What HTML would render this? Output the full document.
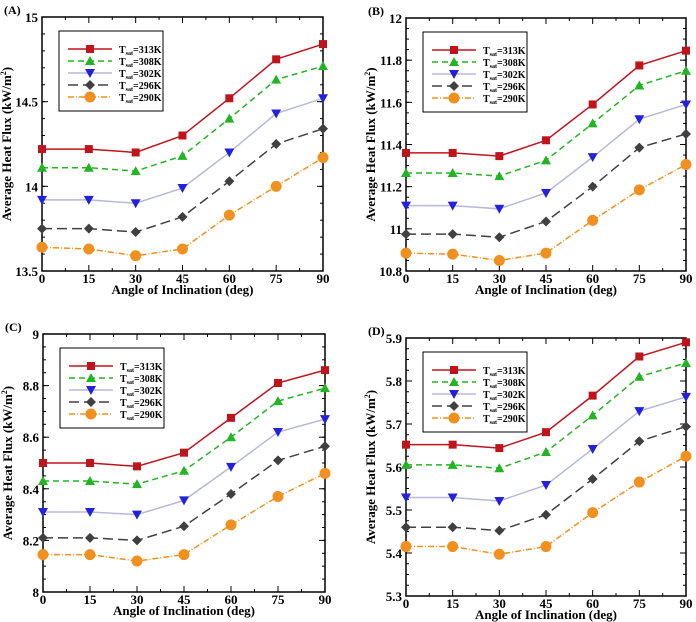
<!DOCTYPE html>
<html><head><meta charset="utf-8"><style>
body{margin:0;background:#fff;}
svg{display:block;font-family:"Liberation Serif",serif;font-weight:bold;}
</style></head><body>
<svg id="chart" width="696" height="622" viewBox="0 0 696 622" xmlns="http://www.w3.org/2000/svg"></svg>
<script>
const categories=[0,15,30,45,60,75,90];
const seriesLabels=["313K","308K","302K","296K","290K"];
const A313=[14.22,14.22,14.2,14.3,14.52,14.75,14.84];
const A308=[14.11,14.11,14.09,14.18,14.4,14.63,14.71];
const A302=[13.92,13.92,13.9,13.99,14.2,14.43,14.52];
const A296=[13.75,13.75,13.73,13.82,14.03,14.25,14.34];
const A290=[13.64,13.63,13.59,13.63,13.83,14.0,14.17];
const B313=[11.36,11.36,11.345,11.42,11.59,11.775,11.845];
const B308=[11.265,11.265,11.25,11.325,11.5,11.68,11.75];
const B302=[11.11,11.11,11.095,11.17,11.34,11.52,11.59];
const B296=[10.975,10.975,10.96,11.035,11.2,11.385,11.45];
const B290=[10.885,10.88,10.85,10.885,11.04,11.185,11.305];
const C313=[8.5,8.5,8.487,8.54,8.675,8.81,8.86];
const C308=[8.43,8.43,8.418,8.47,8.6,8.74,8.79];
const C302=[8.31,8.31,8.3,8.355,8.485,8.62,8.67];
const C296=[8.21,8.21,8.2,8.255,8.38,8.51,8.565];
const C290=[8.145,8.145,8.12,8.145,8.26,8.37,8.46];
const D313=[5.652,5.652,5.644,5.681,5.766,5.857,5.89];
const D308=[5.605,5.605,5.597,5.635,5.72,5.81,5.842];
const D302=[5.529,5.529,5.521,5.558,5.642,5.73,5.763];
const D296=[5.46,5.46,5.452,5.489,5.572,5.66,5.694];
const D290=[5.415,5.415,5.397,5.415,5.494,5.565,5.625];
const ticksA=["13.5","14","14.5","15"];
const ticksB=["10.8","11","11.2","11.4","11.6","11.8","12"];
const ticksC=["8","8.2","8.4","8.6","8.8","9"];
const ticksD=["5.3","5.4","5.5","5.6","5.7","5.8","5.9"];

const NS="http://www.w3.org/2000/svg";
const svg=document.getElementById('chart');
function mk(tag,attrs,parent){const e=document.createElementNS(NS,tag);for(const k in attrs)e.setAttribute(k,attrs[k]);(parent||svg).appendChild(e);return e;}
const styles=[
 {c:"#c0141c",dash:"",m:"sq"},
 {c:"#22b422",dash:"6,4",m:"tri"},
 {c:"#b8b8d8",dash:"",m:"itri"},
 {c:"#404040",dash:"10,5",m:"dia"},
 {c:"#f0901e",dash:"6,2,1,2",m:"circ"}];
function marker(g,m,x,y,c){
 let e;
 if(m=="sq")e=mk('rect',{x:x-4,y:y-4,width:8,height:8,fill:c},g);
 else if(m=="tri")e=mk('polygon',{points:`${x},${y-5} ${x-5},${y+4} ${x+5},${y+4}`,fill:c},g);
 else if(m=="itri")e=mk('polygon',{points:`${x},${y+5} ${x-5},${y-4} ${x+5},${y-4}`,fill:"#2222dd"},g);
 else if(m=="dia")e=mk('polygon',{points:`${x},${y-5} ${x+5},${y} ${x},${y+5} ${x-5},${y}`,fill:c},g);
 else e=mk('circle',{cx:x,cy:y,r:5.5,fill:c},g);
 return e;
}
const panels=[
 {id:"a",label:"(A)",L:42,R:323,T:17,B:271,min:13.5,max:15,ticks:ticksA,minorStep:0.1,data:[A313,A308,A302,A296,A290]},
 {id:"b",label:"(B)",L:406,R:686,T:18,B:271,min:10.8,max:12,ticks:ticksB,minorStep:0.05,data:[B313,B308,B302,B296,B290]},
 {id:"c",label:"(C)",L:43,R:325,T:334,B:592,min:8,max:9,ticks:ticksC,minorStep:0.05,data:[C313,C308,C302,C296,C290]},
 {id:"d",label:"(D)",L:406,R:686,T:338,B:596,min:5.3,max:5.9,ticks:ticksD,minorStep:0.025,data:[D313,D308,D302,D296,D290]}];
panels.forEach(p=>{
 const g=mk('g',{});
 
 
 const xs=v=>p.L+(v-0)/90*(p.R-p.L);
 const ys=v=>p.B-(v-p.min)/(p.max-p.min)*(p.B-p.T);
 const lab=mk('text',{x:p.L-38,y:p.T-3,'font-size':12},g);lab.textContent=p.label;
 
 for(let v=p.min;v<=p.max+1e-9;v+=p.minorStep){const y=ys(v);mk('line',{x1:p.L,x2:p.L+3,y1:y,y2:y,stroke:"#000"},g);mk('line',{x1:p.R,x2:p.R-3,y1:y,y2:y,stroke:"#000"},g);}
 p.ticks.forEach(t=>{const y=ys(parseFloat(t));
  mk('line',{x1:p.L,x2:p.L+6,y1:y,y2:y,stroke:"#000"},g);mk('line',{x1:p.R,x2:p.R-6,y1:y,y2:y,stroke:"#000"},g);
  const tx=mk('text',{x:p.L-4,y:y+5,'text-anchor':'end','font-size':13},g);tx.textContent=t;
  });
 categories.forEach(c=>{const x=xs(c);
  mk('line',{x1:x,x2:x,y1:p.B,y2:p.B-6,stroke:"#000"},g);mk('line',{x1:x,x2:x,y1:p.T,y2:p.T+6,stroke:"#000"},g);
  const tx=mk('text',{x:x,y:p.B+12,'text-anchor':'middle','font-size':13},g);tx.textContent=c;
  });
 for(let c=7.5;c<90;c+=15){const x=xs(c);mk('line',{x1:x,x2:x,y1:p.B,y2:p.B-3,stroke:"#000"},g);mk('line',{x1:x,x2:x,y1:p.T,y2:p.T+3,stroke:"#000"},g);}
 const box=mk('rect',{x:p.L,y:p.T,width:p.R-p.L,height:p.B-p.T,fill:"none",stroke:"#000","stroke-width":1.5},g);
 
 const xt=mk('text',{x:(p.L+p.R)/2,y:p.B+23,'text-anchor':'middle','font-size':13},g);xt.textContent="Angle of Inclination (deg)";
 
 const cy=(p.T+p.B)/2,cx=p.L-31;
 const yt=mk('text',{x:cx,y:cy,'text-anchor':'middle','font-size':13,transform:`rotate(-90 ${cx} ${cy})`},g);
 yt.innerHTML='Average Heat Flux  (kW/m<tspan dy="-5" font-size="8">2</tspan><tspan dy="5">)</tspan>';
 
 p.data.forEach((arr,i)=>{const s=styles[i];
  const pts=arr.map((v,j)=>xs(categories[j])+","+ys(v)).join(" ");
  const pl=mk('polyline',{points:pts,fill:"none",stroke:s.c,"stroke-width":1.5,"stroke-dasharray":s.dash},g);
  
  arr.forEach((v,j)=>{const m=marker(g,s.m,xs(categories[j]),ys(v),s.c);
   });
 });
 const lx=p.L+17,ly=p.T+14;
 const lg=mk('g',{},g);
 mk('rect',{x:lx,y:ly,width:104,height:80,fill:"#fff",stroke:"#000"},lg);
 seriesLabels.forEach((l,i)=>{const s=styles[i];const y=ly+18+i*12;
  mk('line',{x1:lx+9,x2:lx+53,y1:y,y2:y,stroke:s.c,"stroke-width":1.5,"stroke-dasharray":s.dash},lg);
  const m=marker(lg,s.m,lx+31,y,s.c);
  const t=mk('text',{x:lx+60,y:y+4,'font-size':10},lg);
  t.innerHTML='T<tspan dy="2" font-size="6">sat</tspan><tspan dy="-2">='+l+'</tspan>';
  });
});
</script>
</body></html>
